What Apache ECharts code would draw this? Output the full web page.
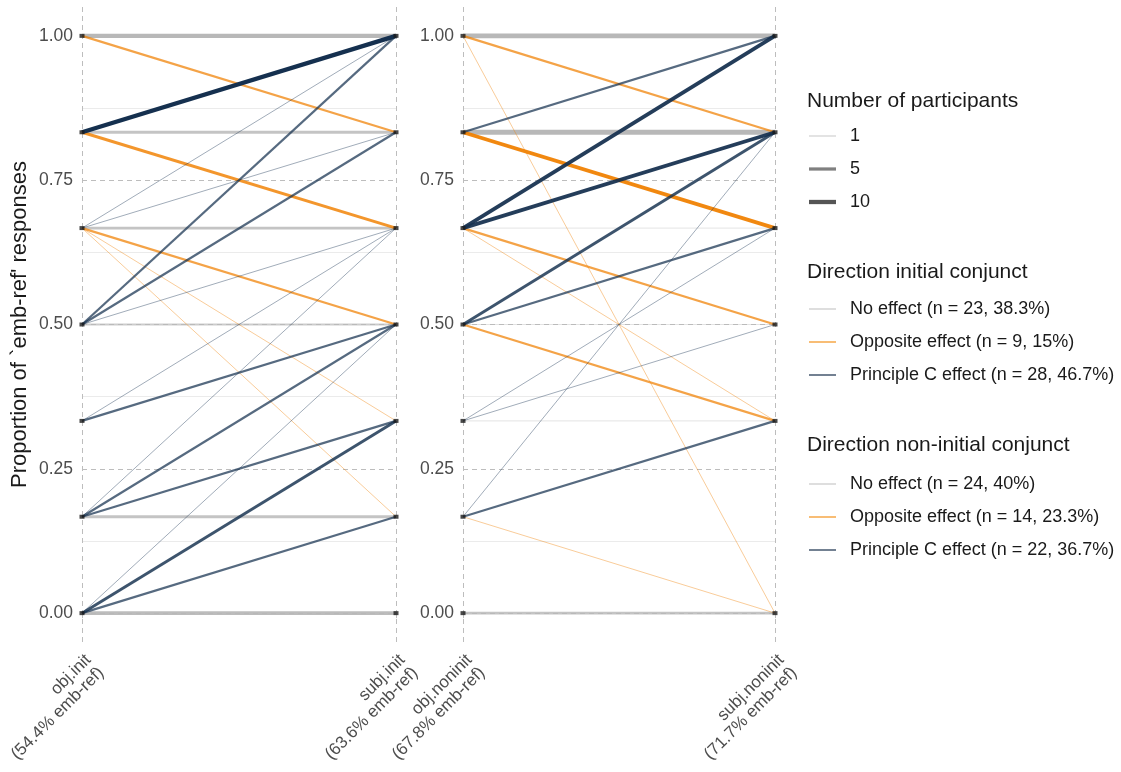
<!DOCTYPE html>
<html>
<head>
<meta charset="utf-8">
<script src="https://cdn.jsdelivr.net/npm/echarts@6/dist/echarts.min.js"></script>
<style>
html,body{margin:0;padding:0;background:#fff;}
#chart{width:1121px;height:772px;}
</style>
</head>
<body>
<div id="chart"></div>
<script>
// ---------- DATA ----------
const initLabels = ['obj.init\n(54.4% emb-ref)', 'subj.init\n(63.6% emb-ref)'];
const noninitLabels = ['obj.noninit\n(67.8% emb-ref)', 'subj.noninit\n(71.7% emb-ref)'];
const yTicks = [0, 0.25, 0.5, 0.75, 1];

// initial conjunct panel: proportion in obj condition -> proportion in subj condition
const initFrom  = [1.000, 0.833, 0.667, 0.500, 0.167, 0.000,
                   1.000, 0.833, 0.667, 0.667, 0.667,
                   0.833, 0.667, 0.667, 0.500, 0.500, 0.500, 0.333, 0.333, 0.167, 0.167, 0.167, 0.000, 0.000, 0.000];
const initTo    = [1.000, 0.833, 0.667, 0.500, 0.167, 0.000,
                   0.833, 0.667, 0.500, 0.333, 0.167,
                   1.000, 1.000, 0.833, 1.000, 0.833, 0.667, 0.667, 0.500, 0.667, 0.500, 0.333, 0.500, 0.333, 0.167];
const initCount = [7, 3, 3, 2, 3, 5,
                   2, 3, 2, 1, 1,
                   7, 1, 1, 2, 2, 1, 1, 2, 1, 2, 2, 1, 3, 2];
const initDir   = ['none','none','none','none','none','none',
                   'opp','opp','opp','opp','opp',
                   'pc','pc','pc','pc','pc','pc','pc','pc','pc','pc','pc','pc','pc','pc'];

// non-initial conjunct panel
const noninitFrom  = [1.000, 0.833, 0.667, 0.500, 0.333, 0.000,
                      1.000, 1.000, 0.833, 0.667, 0.667, 0.500, 0.167,
                      0.833, 0.667, 0.667, 0.500, 0.500, 0.333, 0.333, 0.167, 0.167];
const noninitTo    = [1.000, 0.833, 0.667, 0.500, 0.333, 0.000,
                      0.833, 0.000, 0.667, 0.500, 0.333, 0.333, 0.000,
                      1.000, 1.000, 0.833, 0.833, 0.667, 0.667, 0.500, 0.833, 0.333];
const noninitCount = [9, 9, 1, 1, 1, 3,
                      2, 1, 5, 2, 1, 2, 1,
                      2, 5, 5, 3, 2, 1, 1, 1, 2];
const noninitDir   = ['none','none','none','none','none','none',
                      'opp','opp','opp','opp','opp','opp','opp',
                      'pc','pc','pc','pc','pc','pc','pc','pc','pc'];

const sizeBreaks = [1, 5, 10];
const initLegend = ['No effect (n = 23, 38.3%)', 'Opposite effect (n = 9, 15%)', 'Principle C effect (n = 28, 46.7%)'];
const noninitLegend = ['No effect (n = 24, 40%)', 'Opposite effect (n = 14, 23.3%)', 'Principle C effect (n = 22, 36.7%)'];

// ---------- STYLE ----------
const FONT = 'Liberation Sans, Arial, Helvetica, sans-serif';
const dirColor = { none: '#b8b8b8', opp: '#f08000', pc: '#15304f' };
const dirZ = { none: 2, opp: 3, pc: 4 };
const legendKeyColor = { none: '#cccccc', opp: '#f49a2a', pc: '#283d57' };
const sizeKeyColor = ['#bdbdbd', '#808080', '#555555'];
function widthOf(n) { return 1 + 1.75 * Math.log(n); }
function alphaOf(n) { return 0.4 + 0.6 * Math.min(1, Math.pow(Math.log(n) / Math.log(7), 0.6)); }

const gridLineColor = '#bdbdbd';

function segSeries(from, to, count, dir, axisIdx) {
  const out = [];
  for (let i = 0; i < from.length; i++) {
    out.push({
      type: 'line', xAxisIndex: axisIdx, yAxisIndex: axisIdx,
      data: [from[i], to[i]], symbol: 'none', silent: true, animation: false,
      z: dirZ[dir[i]], clip: true,
      lineStyle: { color: dirColor[dir[i]], width: widthOf(count[i]), opacity: alphaOf(count[i]), cap: 'butt' },
      emphasis: { disabled: true }
    });
  }
  const pts = {};
  for (let i = 0; i < from.length; i++) { pts['0_' + from[i]] = [0, from[i]]; pts['1_' + to[i]] = [1, to[i]]; }
  out.push({
    type: 'scatter', xAxisIndex: axisIdx, yAxisIndex: axisIdx, data: Object.values(pts),
    symbol: 'rect', symbolSize: [5, 4], itemStyle: { color: '#1a1a1a' }, silent: true,
    animation: false, z: 10, clip: true
  });
  return out;
}

const series = []
  .concat(segSeries(initFrom, initTo, initCount, initDir, 2))
  .concat(segSeries(noninitFrom, noninitTo, noninitCount, noninitDir, 3));

// dummy series for legends
sizeBreaks.forEach((b, i) => series.push({ type: 'line', name: String(b), data: [], xAxisIndex: 2, yAxisIndex: 2,
  color: sizeKeyColor[i], itemStyle: { color: sizeKeyColor[i] } }));
const dirKeys = ['none', 'opp', 'pc'];
initLegend.forEach((nm, i) => series.push({ type: 'line', name: nm, data: [], xAxisIndex: 2, yAxisIndex: 2,
  color: legendKeyColor[dirKeys[i]], itemStyle: { color: legendKeyColor[dirKeys[i]] } }));
noninitLegend.forEach((nm, i) => series.push({ type: 'line', name: nm, data: [], xAxisIndex: 3, yAxisIndex: 3,
  color: legendKeyColor[dirKeys[i]], itemStyle: { color: legendKeyColor[dirKeys[i]] } }));

function mainY(idx, withName) {
  return {
    gridIndex: idx, type: 'value', min: yTicks[0], max: yTicks[yTicks.length - 1], interval: 0.25,
    axisLine: { show: false }, axisTick: { show: false },
    axisLabel: { show: true, margin: 9, color: '#4d4d4d', fontSize: 17.5, fontFamily: FONT,
      formatter: v => v.toFixed(2) },
    splitLine: { show: true, lineStyle: { color: gridLineColor, type: [5, 4], width: 1 } },
    minorTick: { show: false, splitNumber: 2 },
    minorSplitLine: { show: true, lineStyle: { color: '#ebebeb', width: 1 } },
    name: withName ? "Proportion of `emb-ref' responses" : '',
    nameLocation: 'middle', nameGap: 51,
    nameTextStyle: { color: '#1a1a1a', fontSize: 22, fontFamily: FONT }
  };
}
function dataY(idx) {
  return { gridIndex: idx, type: 'value', min: -0.05, max: 1.05, show: false,
    splitLine: { show: false }, axisLabel: { show: false } };
}
function dataX(idx, labels) {
  return {
    gridIndex: idx, type: 'category', data: labels, boundaryGap: false,
    axisLine: { show: false },
    axisTick: { show: true, length: 7, lineStyle: { color: gridLineColor, type: [5, 4] } },
    splitLine: { show: true, lineStyle: { color: gridLineColor, type: [5, 4], width: 1 } },
    axisLabel: { interval: 0, rotate: 45, margin: 9, color: '#4d4d4d', fontSize: 17, lineHeight: 18,
      fontFamily: FONT, align: 'right', verticalAlign: 'top' }
  };
}

function sizeLegend(i, top) {
  return {
    orient: 'vertical', left: 809, top: top, padding: 0,
    data: [String(sizeBreaks[i])], icon: 'rect', itemWidth: 27, itemHeight: widthOf(sizeBreaks[i]) * 0.85,
    textStyle: { fontSize: 18, fontFamily: FONT, color: '#1a1a1a', lineHeight: 20, padding: [0, 0, 0, 9] },
    selectedMode: false
  };
}
function dirLegend(names, top) {
  return {
    orient: 'vertical', left: 809, top: top, padding: 0, itemGap: 13,
    data: names, icon: 'rect', itemWidth: 27, itemHeight: 1.3,
    textStyle: { fontSize: 18, fontFamily: FONT, color: '#1a1a1a', lineHeight: 20, padding: [0, 0, 0, 9] },
    selectedMode: false
  };
}
function titleAt(text, top) {
  return { text: text, left: 807, top: top, padding: 0,
    textStyle: { fontSize: 21, fontWeight: 'normal', color: '#1a1a1a', fontFamily: FONT, lineHeight: 22 } };
}

const option = {
  backgroundColor: '#ffffff',
  animation: false,
  textStyle: { fontFamily: FONT },
  title: [
    titleAt('Number of participants', 90),
    titleAt('Direction initial conjunct', 261),
    titleAt('Direction non-initial conjunct', 434)
  ],
  legend: [
    sizeLegend(0, 126), sizeLegend(1, 159), sizeLegend(2, 192),
    dirLegend(initLegend, 299),
    dirLegend(noninitLegend, 474)
  ],
  grid: [
    { left: 82, top: 36, width: 314, height: 577, containLabel: false, outerBoundsMode: 'none' },
    { left: 463, top: 36, width: 312, height: 577, containLabel: false, outerBoundsMode: 'none' },
    { left: 82, top: 7, width: 314, height: 635, containLabel: false, outerBoundsMode: 'none' },
    { left: 463, top: 7, width: 312, height: 635, containLabel: false, outerBoundsMode: 'none' }
  ],
  xAxis: [
    { gridIndex: 0, type: 'value', min: 0, max: 1, show: false, splitLine: { show: false } },
    { gridIndex: 1, type: 'value', min: 0, max: 1, show: false, splitLine: { show: false } },
    dataX(2, initLabels),
    dataX(3, noninitLabels)
  ],
  yAxis: [mainY(0, true), mainY(1, false), dataY(2), dataY(3)],
  series: series
};

const chart = echarts.init(document.getElementById('chart'), null, { renderer: 'canvas' });
chart.setOption(option);
</script>
</body>
</html>
